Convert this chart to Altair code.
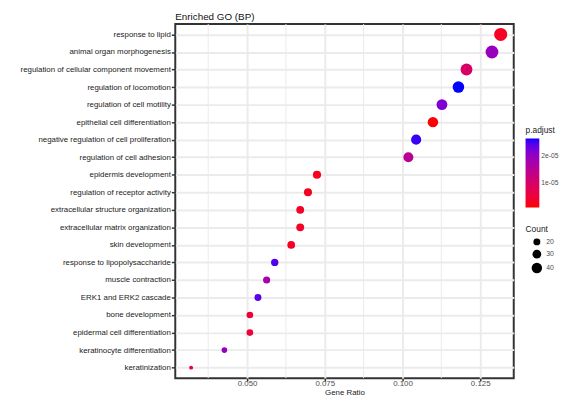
import altair as alt
import pandas as pd

terms = [
    "response to lipid",
    "animal organ morphogenesis",
    "regulation of cellular component movement",
    "regulation of locomotion",
    "regulation of cell motility",
    "epithelial cell differentiation",
    "negative regulation of cell proliferation",
    "regulation of cell adhesion",
    "epidermis development",
    "regulation of receptor activity",
    "extracellular structure organization",
    "extracellular matrix organization",
    "skin development",
    "response to lipopolysaccharide",
    "muscle contraction",
    "ERK1 and ERK2 cascade",
    "bone development",
    "epidermal cell differentiation",
    "keratinocyte differentiation",
    "keratinization",
]
gene_ratio = [0.1316, 0.1288, 0.1206, 0.1180, 0.1127, 0.1098, 0.1044, 0.1019,
              0.0725, 0.0696, 0.0671, 0.0671, 0.0642, 0.0589, 0.0563, 0.0535,
              0.0509, 0.0509, 0.0427, 0.0320]
counts = [48, 47, 44, 43, 41, 40, 38, 37, 27, 26, 25, 25, 24, 22, 21, 20, 19, 19, 16, 12]
p_adjust = [0.25e-5, 1.95e-5, 0.95e-5, 2.68e-5, 2.2e-5, 0.05e-5, 2.6e-5, 1.55e-5,
            0.2e-5, 0.22e-5, 0.3e-5, 0.3e-5, 0.25e-5, 2.5e-5, 1.75e-5, 2.45e-5,
            0.45e-5, 0.45e-5, 2.0e-5, 0.45e-5]
major_breaks = [0.05, 0.075, 0.1, 0.125]
minor_breaks = [0.0375, 0.0625, 0.0875, 0.1125]
padj_breaks = [1e-5, 2e-5]
count_breaks = [20, 30, 40]

df = pd.DataFrame({"Description": terms, "GeneRatio": gene_ratio,
                   "Count": counts, "padj": p_adjust})
minor_df = pd.DataFrame({"m": minor_breaks})

xscale = alt.Scale(domain=[0.0269, 0.1358], nice=False, zero=False)

minor = alt.Chart(minor_df).mark_rule(color="#EBEBEB", strokeWidth=1).encode(
    x=alt.X("m:Q", scale=xscale)
)

points = alt.Chart(df).mark_circle(opacity=1).encode(
    x=alt.X("GeneRatio:Q", scale=xscale, title="Gene Ratio",
            axis=alt.Axis(values=major_breaks, format=".3f", grid=True,
                          gridColor="#EBEBEB", gridWidth=2, ticks=True,
                          tickSize=3, tickWidth=1.5, tickColor="#333333",
                          domain=False, labelFontSize=8, labelColor="#4D4D4D",
                          labelPadding=-2, titleFontSize=8, titleFontWeight="normal",
                          titleColor="#222222", titlePadding=2)),
    y=alt.Y("Description:N", sort=terms, title=None,
            scale=alt.Scale(type="point", padding=0.6),
            axis=alt.Axis(grid=True, gridColor="#EBEBEB", gridWidth=2,
                          ticks=True, tickSize=4, tickWidth=1.5, tickColor="#333333",
                          domain=False, labelFontSize=8, labelColor="#222222",
                          labelPadding=1, labelLimit=300)),
    color=alt.Color("padj:Q", title="p.adjust",
                    scale=alt.Scale(range=["#FF0000", "#0000FF"], interpolate="lab"),
                    legend=alt.Legend(orient="none", legendX=356, legendY=104,
                                      gradientLength=70, gradientThickness=14,
                                      values=padj_breaks,
                                      labelExpr="format(datum.value*1e5, '.0f') + 'e-05'",
                                      labelOffset=2, titlePadding=4,
                                      titleFontSize=8.5, titleFontWeight="normal",
                                      titleColor="#222222", labelFontSize=6.8,
                                      labelColor="#4D4D4D", direction="vertical")),
    size=alt.Size("Count:Q", title="Count",
                  scale=alt.Scale(domain=[12, 20, 30, 40, 48],
                                  range=[16, 50, 78, 113, 177], zero=False),
                  legend=alt.Legend(orient="none", legendX=356, legendY=204,
                                    values=count_breaks, symbolFillColor="black",
                                    symbolStrokeWidth=0, symbolType="circle",
                                    symbolOffset=6, titlePadding=5,
                                    titleFontSize=8.5, titleFontWeight="normal",
                                    titleColor="#222222", labelFontSize=7,
                                    labelColor="#4D4D4D", rowPadding=4)),
)

chart = alt.layer(minor, points).properties(
    width=344, height=360,
    padding={"left": 12, "top": 0, "right": 0, "bottom": 0},
    title=alt.TitleParams("Enriched GO (BP)", anchor="start", frame="group",
                          fontSize=10, fontWeight="normal", color="#111111",
                          offset=2),
).configure(font="Liberation Sans").configure_view(
    stroke="#333333", strokeWidth=2
)

chart.save("out.html", embed_options={"renderer": "svg", "actions": False})
